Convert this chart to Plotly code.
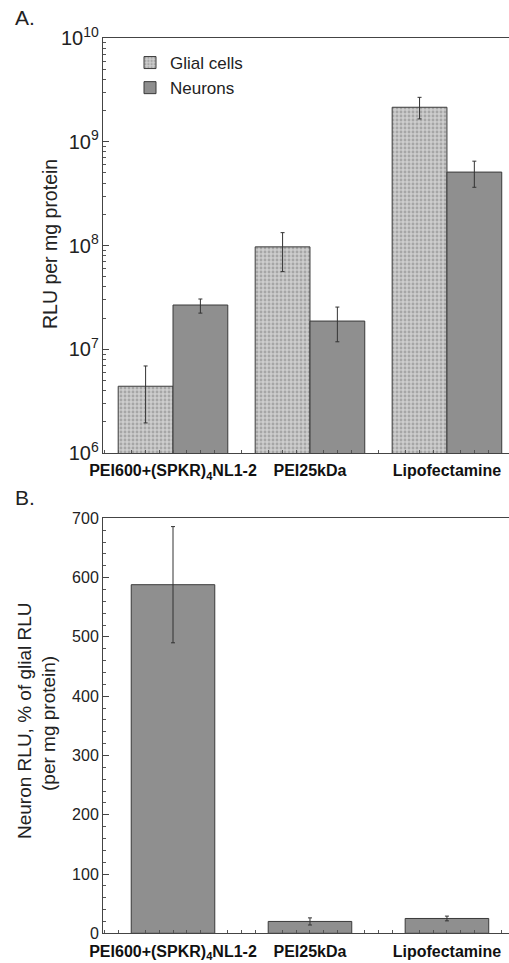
import plotly.graph_objects as go

# Transfection vectors (x categories)
vectors = ["PEI600+(SPKR)<sub>4</sub>NL1-2", "PEI25kDa", "Lipofectamine"]

# Panel A: luciferase activity, RLU per mg protein (asymmetric error bars)
glial_rlu = [4.4e6, 9.7e7, 2.15e9]
glial_hi = [6.9e6, 1.33e8, 2.68e9]
glial_lo = [1.95e6, 5.6e7, 1.66e9]
neuron_rlu = [2.67e7, 1.87e7, 5.1e8]
neuron_hi = [3.05e7, 2.55e7, 6.5e8]
neuron_lo = [2.23e7, 1.18e7, 3.64e8]

# Panel B: neuron RLU as % of glial RLU
ratio_pct = [588, 20, 25]
ratio_err = [98, 6, 4]

xpos = [0, 1, 2]

FONT = "Liberation Sans, Arial, Helvetica, sans-serif"
EDGE = "#3a3a3a"
GLIAL = "#cdcdcd"
NEURON = "#8f8f8f"

fig = go.Figure()

fig.add_trace(go.Bar(
    x=xpos, y=glial_rlu, name="Glial cells", xaxis="x", yaxis="y",
    marker=dict(color=GLIAL, line=dict(color=EDGE, width=1),
                pattern=dict(shape=".", fillmode="overlay", fgcolor="#808080",
                             size=4, solidity=0.4)),
    error_y=dict(type="data", symmetric=False,
                 array=[h - v for h, v in zip(glial_hi, glial_rlu)],
                 arrayminus=[v - l for v, l in zip(glial_rlu, glial_lo)],
                 color="#333333", thickness=1, width=2),
))
fig.add_trace(go.Bar(
    x=xpos, y=neuron_rlu, name="Neurons", xaxis="x", yaxis="y",
    marker=dict(color=NEURON, line=dict(color=EDGE, width=1)),
    error_y=dict(type="data", symmetric=False,
                 array=[h - v for h, v in zip(neuron_hi, neuron_rlu)],
                 arrayminus=[v - l for v, l in zip(neuron_rlu, neuron_lo)],
                 color="#333333", thickness=1, width=2),
))
fig.add_trace(go.Bar(
    x=xpos, y=ratio_pct, name="ratio", xaxis="x2", yaxis="y2", width=0.61,
    showlegend=False,
    marker=dict(color=NEURON, line=dict(color=EDGE, width=1)),
    error_y=dict(type="data", array=ratio_err, color="#333333",
                 thickness=1, width=2),
))

xr = [-0.511, 2.453]
xdom = [103 / 509, 1.0]
domA = [1 - 453 / 963, 1 - 38 / 963]
domB = [1 - 933.3 / 963, 1 - 518.3 / 963]

tickfont = dict(family=FONT, size=16, color="#222222")
xlabfont = dict(family=FONT, size=16, color="#111111", weight="bold")


def xaxis_cfg(anchor):
    return dict(domain=xdom, range=xr, anchor=anchor, automargin=False,
                tickmode="array", tickvals=xpos, ticktext=vectors,
                ticks="", tickfont=xlabfont, ticklabelstandoff=3,
                showline=True, linecolor="#444444", linewidth=1,
                mirror=True, showgrid=False, zeroline=False,
                minor=dict(tickmode="linear", tick0=0, dtick=0.1,
                           ticks="inside", ticklen=3, tickcolor="#555555",
                           showgrid=False))


def xaxis_marks(over, anchor):
    # longer ticks on the category boundaries
    return dict(domain=xdom, range=xr, overlaying=over, anchor=anchor,
                automargin=False,
                tickmode="array", tickvals=[0.5, 1.5], showticklabels=False,
                ticks="inside", ticklen=6, tickcolor="#444444",
                showline=False, showgrid=False, zeroline=False,
                mirror="ticks")


fig.update_layout(
    width=509, height=963,
    margin=dict(l=0, r=0, t=0, b=0, autoexpand=False),
    paper_bgcolor="white", plot_bgcolor="white",
    barmode="group", bargap=0.2, bargroupgap=0,
    font=dict(family=FONT, color="#222222"),
    xaxis=xaxis_cfg("y"),
    xaxis2=xaxis_cfg("y2"),
    xaxis3=xaxis_marks("x", "y"),
    xaxis4=xaxis_marks("x2", "y2"),
    yaxis=dict(domain=domA, type="log", range=[6, 10], anchor="x",
               automargin=False,
               dtick=1, exponentformat="power", tickfont=tickfont,
               ticks="inside", ticklen=6, tickcolor="#444444",
               showline=True, linecolor="#444444", linewidth=1,
               showgrid=False, zeroline=False,
               minor=dict(ticks="inside", ticklen=3, tickcolor="#555555",
                          showgrid=False)),
    yaxis2=dict(domain=domB, range=[0, 700], anchor="x2", automargin=False,
                dtick=100, tickfont=tickfont,
                ticks="inside", ticklen=6, tickcolor="#444444",
                showline=True, linecolor="#444444", linewidth=1,
                showgrid=False, zeroline=False,
                minor=dict(dtick=20, ticks="inside", ticklen=3,
                           tickcolor="#555555", showgrid=False)),
    legend=dict(x=130 / 509, y=1 - 45 / 963, xanchor="left", yanchor="top",
                bgcolor="rgba(0,0,0,0)",
                font=dict(family=FONT, size=17, color="#222222"),
                tracegroupgap=0, itemwidth=30),
    showlegend=True,
)

fig.add_annotation(text="A.", x=13 / 509, y=1 - 17 / 963, xref="paper",
                   yref="paper", xanchor="left", yanchor="middle",
                   showarrow=False, font=dict(family=FONT, size=21))
fig.add_annotation(text="B.", x=13 / 509, y=1 - 497 / 963, xref="paper",
                   yref="paper", xanchor="left", yanchor="middle",
                   showarrow=False, font=dict(family=FONT, size=21))
fig.add_annotation(text="RLU per mg protein", textangle=-90,
                   x=50 / 509, y=1 - 244 / 963, xref="paper", yref="paper",
                   xanchor="center", yanchor="middle", showarrow=False,
                   font=dict(family=FONT, size=19.5))
fig.add_annotation(text="Neuron RLU, % of glial RLU", textangle=-90,
                   x=24 / 509, y=1 - 721 / 963, xref="paper", yref="paper",
                   xanchor="center", yanchor="middle", showarrow=False,
                   font=dict(family=FONT, size=19))
fig.add_annotation(text="(per mg protein)", textangle=-90,
                   x=48 / 509, y=1 - 724 / 963, xref="paper", yref="paper",
                   xanchor="center", yanchor="middle", showarrow=False,
                   font=dict(family=FONT, size=19))

fig.write_html("out.html")
